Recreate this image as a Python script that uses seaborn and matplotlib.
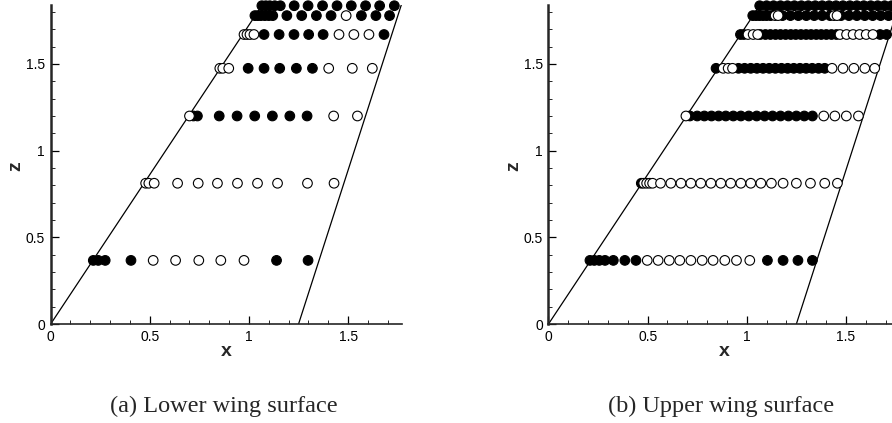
import pandas as pd
import seaborn as sns
import matplotlib.pyplot as plt
from matplotlib.ticker import FixedLocator, MultipleLocator

# spanwise stations (z) of the pressure tap rows
span_z = [0.367, 0.812, 1.200, 1.475, 1.670, 1.779, 1.836]

# chordwise tap positions (x) per row, filled = black symbol, open = white symbol
lower_filled = [
    [0.215, 0.240, 0.275, 0.405, 1.139, 1.298],
    [],
    [0.720, 0.740, 0.850, 0.940, 1.029, 1.118, 1.206, 1.293],
    [0.996, 1.076, 1.155, 1.239, 1.320],
    [1.076, 1.152, 1.227, 1.301, 1.374, 1.681],
    [1.030, 1.045, 1.060, 1.080, 1.100, 1.120, 1.191, 1.266, 1.340, 1.414, 1.567, 1.640, 1.709],
    [1.065, 1.085, 1.105, 1.130, 1.158, 1.228, 1.298, 1.371, 1.444, 1.516, 1.588, 1.659, 1.733],
]
lower_open = [
    [0.517, 0.630, 0.747, 0.858, 0.975],
    [0.479, 0.495, 0.522, 0.640, 0.744, 0.841, 0.942, 1.043, 1.144, 1.295, 1.429],
    [0.700, 1.427, 1.547],
    [0.853, 0.868, 0.898, 1.402, 1.521, 1.622],
    [0.975, 0.990, 1.005, 1.025, 1.454, 1.529, 1.605],
    [1.490],
    [],
]
upper_filled = [
    [0.209, 0.231, 0.256, 0.285, 0.327, 0.385, 0.441, 1.104, 1.183, 1.258, 1.331],
    [0.468],
    [0.713, 0.750, 0.786, 0.822, 0.858, 0.894, 0.932, 0.970, 1.010, 1.050, 1.090, 1.130,
     1.170, 1.210, 1.250, 1.290, 1.331],
    [0.845, 0.958, 0.989, 1.020, 1.051, 1.082, 1.113, 1.144, 1.175, 1.206, 1.237, 1.268,
     1.299, 1.330, 1.362, 1.393],
    [0.968, 0.985, 1.068, 1.094, 1.119, 1.145, 1.170, 1.196, 1.222, 1.247, 1.273, 1.299,
     1.324, 1.350, 1.375, 1.401, 1.427, 1.452, 1.672, 1.705],
    [1.030, 1.047, 1.064, 1.082, 1.100, 1.120, 1.180, 1.220, 1.260, 1.300, 1.340, 1.380,
     1.420, 1.475, 1.515, 1.555, 1.595, 1.635, 1.675, 1.715],
    [1.065, 1.100, 1.135, 1.170, 1.205, 1.240, 1.275, 1.310, 1.345, 1.380, 1.415, 1.450,
     1.485, 1.520, 1.555, 1.590, 1.625, 1.660, 1.695, 1.730, 1.765],
]
upper_open = [
    [0.498, 0.553, 0.609, 0.662, 0.718, 0.775, 0.830, 0.889, 0.948, 1.015],
    [0.480, 0.495, 0.510, 0.525, 0.565, 0.617, 0.668, 0.718, 0.768, 0.819, 0.869, 0.919,
     0.970, 1.020, 1.071, 1.124, 1.183, 1.250, 1.321, 1.393, 1.457],
    [0.693, 1.388, 1.444, 1.502, 1.563],
    [0.881, 0.906, 0.928, 1.430, 1.485, 1.540, 1.595, 1.645],
    [1.006, 1.032, 1.055, 1.470, 1.503, 1.536, 1.569, 1.602, 1.636],
    [1.143, 1.158, 1.440, 1.455],
    [],
]

# wing planform edges
le_x = [0.0, 1.067]
le_z = [0.0, 1.84]
te_x = [1.25, 1.768]
te_z = [0.0, 1.84]

tick_vals = [0, 0.5, 1, 1.5]
tick_text = ['0', '0.5', '1', '1.5']
captions = ['(a) Lower wing surface', '(b) Upper wing surface']

sns.set_style('ticks')
plt.rcParams['font.family'] = ['Liberation Sans', 'DejaVu Sans']


def taps_frame(filled, opened):
    rows = []
    for z, xs in zip(span_z, filled):
        for x in xs:
            rows.append((x, z, 'filled'))
    for z, xs in zip(span_z, opened):
        for x in xs:
            rows.append((x, z, 'open'))
    return pd.DataFrame(rows, columns=['x', 'z', 'tap'])


def draw_panel(ax, df):
    ax.plot(le_x, le_z, color='black', lw=0.9)
    ax.plot(te_x, te_z, color='black', lw=0.9)
    sns.scatterplot(data=df, x='x', y='z', hue='tap',
                    palette={'filled': 'black', 'open': 'white'},
                    edgecolor='black', linewidth=0.8, s=48, legend=False,
                    ax=ax, clip_on=False, zorder=3)
    ax.set_xlim(0, 1.77)
    ax.set_ylim(0, 1.84)
    ax.xaxis.set_major_locator(FixedLocator(tick_vals))
    ax.yaxis.set_major_locator(FixedLocator(tick_vals))
    ax.set_xticklabels(tick_text)
    ax.set_yticklabels(tick_text)
    ax.xaxis.set_minor_locator(MultipleLocator(0.1))
    ax.yaxis.set_minor_locator(MultipleLocator(0.1))
    ax.tick_params(which='major', direction='in', length=6, width=0.9,
                   labelsize=10, pad=4, colors='black')
    ax.tick_params(which='minor', direction='in', length=3, width=0.7)
    sns.despine(ax=ax)
    ax.spines['left'].set_linewidth(1.8)
    ax.spines['bottom'].set_linewidth(1.2)
    ax.set_xlabel('x', fontsize=14, fontweight='bold', va='center')
    ax.set_ylabel('z', fontsize=14, fontweight='bold', va='center')
    ax.xaxis.set_label_coords(0.5, -0.086)
    ax.yaxis.set_label_coords(-0.099, 0.495)


fig = plt.figure(figsize=(8.92, 4.23), dpi=100)
ax1 = fig.add_axes([0.0568, 0.234, 0.3935, 0.7541])
ax2 = fig.add_axes([0.6149, 0.234, 0.3935, 0.7541])

draw_panel(ax1, taps_frame(lower_filled, lower_open))
draw_panel(ax2, taps_frame(upper_filled, upper_open))

fig.text(223.5 / 892, 0.027, captions[0], ha='center', va='baseline',
         family='Liberation Serif', fontsize=17.5)
fig.text(721 / 892, 0.027, captions[1], ha='center', va='baseline',
         family='Liberation Serif', fontsize=17.5)

fig.savefig('out.png', dpi=100)
